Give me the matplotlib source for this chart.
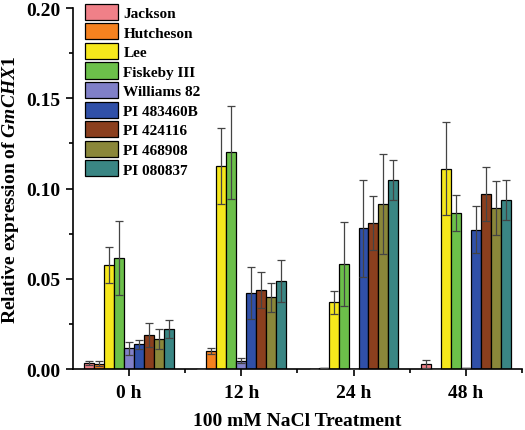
import numpy as np
import matplotlib
matplotlib.use("Agg")
import matplotlib.pyplot as plt
from matplotlib.ticker import MultipleLocator, FixedLocator

plt.rcParams['font.family'] = ['Liberation Serif', 'DejaVu Serif']
plt.rcParams['font.weight'] = 'bold'
plt.rcParams['mathtext.fontset'] = 'custom'
plt.rcParams['mathtext.rm'] = 'Liberation Serif:bold'
plt.rcParams['mathtext.it'] = 'Liberation Serif:bold:italic'

timepoints = ['0 h', '12 h', '24 h', '48 h']
cultivars = ['Jackson', 'Hutcheson', 'Lee', 'Fiskeby III', 'Williams 82',
             'PI 483460B', 'PI 424116', 'PI 468908', 'PI 080837']
colors = ['#F08088', '#F5821F', '#F6E81C', '#6CC04A', '#8080C8',
          '#3050A8', '#8B3F1E', '#8A873A', '#3A8684']

jackson    = [0.0035, 0.0,    0.0,    0.0028]
hutcheson  = [0.0030, 0.0099, 0.0003, 0.0]
lee        = [0.0578, 0.1125, 0.0369, 0.1110]
fiskeby    = [0.0616, 0.1200, 0.0583, 0.0864]
williams   = [0.0114, 0.0046, 0.0,    0.0005]
pi483460b  = [0.0136, 0.0421, 0.0779, 0.0772]
pi424116   = [0.0189, 0.0439, 0.0809, 0.0969]
pi468908   = [0.0164, 0.0397, 0.0913, 0.0891]
pi080837   = [0.0224, 0.0489, 0.1047, 0.0937]

jackson_err   = [0.0010, 0.0,    0.0,    0.0020]
hutcheson_err = [0.0012, 0.0015, 0.0,    0.0]
lee_err       = [0.0100, 0.0213, 0.0065, 0.0257]
fiskeby_err   = [0.0205, 0.0260, 0.0233, 0.0102]
williams_err  = [0.0036, 0.0013, 0.0,    0.0]
pi483460b_err = [0.0026, 0.0145, 0.0267, 0.0130]
pi424116_err  = [0.0066, 0.0101, 0.0148, 0.0151]
pi468908_err  = [0.0055, 0.0081, 0.0276, 0.0149]
pi080837_err  = [0.0050, 0.0117, 0.0113, 0.0110]

values = [jackson, hutcheson, lee, fiskeby, williams, pi483460b, pi424116, pi468908, pi080837]
errors = [jackson_err, hutcheson_err, lee_err, fiskeby_err, williams_err,
          pi483460b_err, pi424116_err, pi468908_err, pi080837_err]

fig = plt.figure(figsize=(5.25, 4.31), dpi=100)
ax = fig.add_axes([0.139, 0.1415, 0.855, 0.8375])

x = np.arange(len(timepoints))
n = len(cultivars)
w = 0.8 / n
for i, (name, v, e, c) in enumerate(zip(cultivars, values, errors, colors)):
    pos = x - 0.4 + w * (i + 0.5)
    ax.bar(pos, v, width=w, color=c, edgecolor='black', linewidth=0.9, label=name, zorder=2)
    ax.errorbar(pos, v, yerr=e, fmt='none', ecolor='#444444', elinewidth=0.9,
                capsize=3, capthick=0.9, zorder=3)

ax.set_xlim(-0.5, 3.5)
ax.set_ylim(0, 0.20)
ax.set_xticks(x)
ax.set_xticklabels(timepoints)
ax.xaxis.set_minor_locator(FixedLocator([0.5, 1.5, 2.5, 3.5]))
ax.yaxis.set_major_locator(MultipleLocator(0.05))
ax.yaxis.set_minor_locator(MultipleLocator(0.025))
ax.yaxis.set_major_formatter(matplotlib.ticker.FormatStrFormatter('%.2f'))
ax.tick_params(axis='both', which='major', length=5, width=1.2, labelsize=14, direction='out')
ax.tick_params(axis='both', which='minor', length=3, width=1.2, direction='out')
ax.tick_params(axis='x', which='major', pad=6)
ax.tick_params(axis='y', which='major', pad=4)
for lbl in ax.get_xticklabels() + ax.get_yticklabels():
    lbl.set_fontweight('bold')

for s in ['top', 'right']:
    ax.spines[s].set_visible(False)
for s in ['left', 'bottom']:
    ax.spines[s].set_linewidth(1.2)

ax.set_xlabel('100 mM NaCl Treatment', fontsize=14, fontweight='bold', labelpad=8)
ax.set_ylabel(r'Relative expression of $\mathit{GmCHX1}$', fontsize=14, fontweight='bold', labelpad=4)

leg = ax.legend(loc='upper left', bbox_to_anchor=(0.027, 1.012), frameon=False,
                prop={'family': 'Liberation Serif', 'weight': 'bold', 'size': 11},
                handlelength=2.15, handleheight=1.25, labelspacing=0.22, handletextpad=0.35,
                borderaxespad=0, borderpad=0)

fig.savefig('out.png', dpi=100)
